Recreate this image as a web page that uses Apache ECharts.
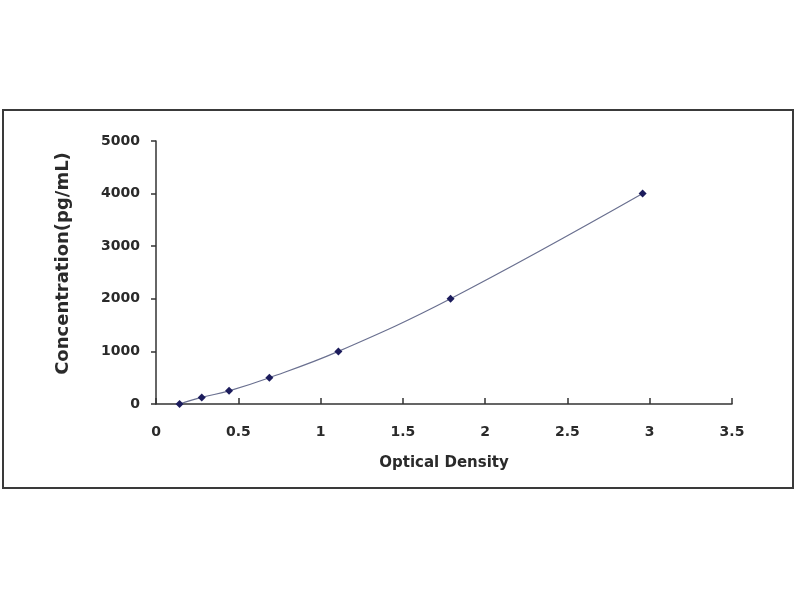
<!DOCTYPE html>
<html>
<head>
<meta charset="utf-8">
<script src="https://cdn.jsdelivr.net/npm/echarts@6/dist/echarts.min.js"></script>
<style>html,body{margin:0;padding:0;background:#fff;}#c{width:800px;height:600px;}</style>
</head>
<body>
<div id="c"></div>
<script>
var opticalDensity = [0.143, 0.278, 0.444, 0.689, 1.108, 1.79, 2.957];
var concentration = [0, 125, 250, 500, 1000, 2000, 4000];
var xTicks = [0, 0.5, 1, 1.5, 2, 2.5, 3, 3.5];
var yTicks = [0, 1000, 2000, 3000, 4000, 5000];

var pts = opticalDensity.map(function (x, i) { return [x, concentration[i]]; });
var chart = echarts.init(document.getElementById('c'));
var labelFont = { fontFamily: 'DejaVu Sans', fontWeight: 'bold', fontSize: 14, color: '#2a2a2a' };
chart.setOption({
  animation: false,
  backgroundColor: '#fff',
  graphic: [{
    type: 'rect', shape: { x: 3, y: 110, width: 790, height: 378 },
    style: { fill: 'none', stroke: '#3a3a3a', lineWidth: 2 }, silent: true
  }],
  grid: { left: 156, right: 68, top: 141, bottom: 196 },
  xAxis: {
    type: 'value', min: xTicks[0], max: xTicks[xTicks.length - 1], interval: 0.5,
    name: 'Optical Density', nameLocation: 'middle', nameGap: 52,
    nameTextStyle: { fontFamily: 'DejaVu Sans', fontWeight: 'bold', fontSize: 15, color: '#2a2a2a' },
    axisLine: { show: true, lineStyle: { color: '#333', width: 1.5 } },
    axisTick: { show: true, inside: true, length: 6, lineStyle: { color: '#333', width: 1.5 } },
    axisLabel: Object.assign({ margin: 21, formatter: function (v) { return String(v); } }, labelFont),
    splitLine: { show: false }
  },
  yAxis: {
    type: 'value', min: yTicks[0], max: yTicks[yTicks.length - 1], interval: 1000,
    name: 'Concentration(pg/mL)', nameLocation: 'middle', nameGap: 84, nameRotate: 90,
    nameTextStyle: { fontFamily: 'DejaVu Sans', fontWeight: 'bold', fontSize: 18, color: '#2a2a2a', padding: [0, 0, 0, 18] },
    axisLine: { show: true, lineStyle: { color: '#333', width: 1.5 } },
    axisTick: { show: true, length: 5, lineStyle: { color: '#333', width: 1.5 } },
    axisLabel: Object.assign({ margin: 16, formatter: function (v) { return String(v); } }, labelFont),
    splitLine: { show: false }
  },
  series: [{
    type: 'line', data: pts, smooth: 0.4,
    symbol: 'diamond', symbolSize: 8,
    itemStyle: { color: '#1c1c5c' },
    lineStyle: { color: '#6a7090', width: 1.2 }
  }]
});
</script>
</body>
</html>
